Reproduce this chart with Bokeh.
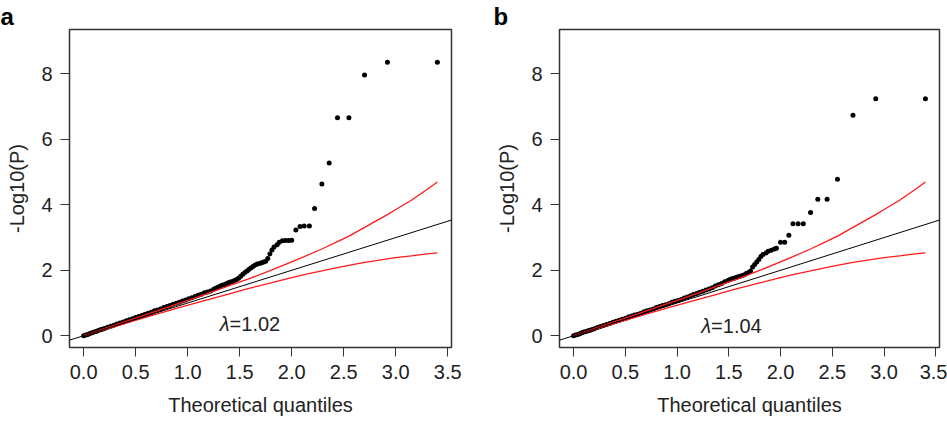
from bokeh.plotting import figure
from bokeh.models import Label, Slope, FixedTicker
from bokeh.layouts import row
from bokeh.embed import file_html
from bokeh.resources import INLINE

# ---------------- data ----------------
x_ticks = [0.0, 0.5, 1.0, 1.5, 2.0, 2.5, 3.0, 3.5]
x_tick_labels = ["0.0", "0.5", "1.0", "1.5", "2.0", "2.5", "3.0", "3.5"]
y_ticks = [0, 2, 4, 6, 8]
y_tick_labels = ["0", "2", "4", "6", "8"]

# panel a observed -log10(P) vs expected
a_x = [
    0.00, 0.02, 0.04, 0.06, 0.08, 0.10, 0.12, 0.14, 0.16, 0.18,
    0.20, 0.23, 0.26, 0.29, 0.32, 0.35, 0.38, 0.41, 0.44, 0.47,
    0.50, 0.53, 0.56, 0.59, 0.62, 0.65, 0.68, 0.71, 0.74, 0.77,
    0.80, 0.83, 0.86, 0.89, 0.92, 0.95, 0.98, 1.01, 1.04, 1.07,
    1.10, 1.13, 1.16, 1.19, 1.22, 1.25, 1.27, 1.29, 1.31, 1.33,
    1.35, 1.37, 1.39, 1.41, 1.43, 1.45, 1.47, 1.49, 1.51, 1.53,
    1.55, 1.57, 1.59, 1.61, 1.63, 1.65, 1.67, 1.69, 1.71, 1.73,
    1.75, 1.77, 1.79, 1.81, 1.83, 1.86, 1.88, 1.91, 1.94, 1.97,
    2.00, 2.04, 2.08, 2.12, 2.17, 2.22, 2.29, 2.36, 2.44, 2.55,
    2.70, 2.92, 3.40]
a_y = [
    0.00, 0.02, 0.04, 0.07, 0.09, 0.11, 0.13, 0.16, 0.18, 0.20,
    0.22, 0.26, 0.29, 0.32, 0.36, 0.39, 0.42, 0.46, 0.49, 0.52,
    0.56, 0.59, 0.62, 0.66, 0.69, 0.72, 0.76, 0.79, 0.82, 0.86,
    0.89, 0.92, 0.96, 0.99, 1.02, 1.06, 1.09, 1.13, 1.16, 1.20,
    1.24, 1.27, 1.31, 1.34, 1.37, 1.42, 1.45, 1.48, 1.51, 1.54,
    1.56, 1.59, 1.62, 1.64, 1.66, 1.69, 1.72, 1.76, 1.82, 1.88,
    1.93, 1.98, 2.03, 2.08, 2.12, 2.16, 2.19, 2.21, 2.23, 2.25,
    2.28, 2.36, 2.50, 2.62, 2.71, 2.78, 2.86, 2.90, 2.91, 2.91,
    2.92, 3.23, 3.34, 3.35, 3.35, 3.89, 4.64, 5.28, 6.66, 6.66,
    7.97, 8.36, 8.36]

# panel b observed -log10(P) vs expected
b_x = [
    0.00, 0.02, 0.04, 0.06, 0.08, 0.10, 0.12, 0.14, 0.16, 0.18,
    0.20, 0.23, 0.26, 0.29, 0.32, 0.35, 0.38, 0.41, 0.44, 0.47,
    0.50, 0.53, 0.56, 0.59, 0.62, 0.65, 0.68, 0.71, 0.74, 0.77,
    0.80, 0.83, 0.86, 0.89, 0.92, 0.95, 0.98, 1.01, 1.04, 1.07,
    1.10, 1.13, 1.16, 1.19, 1.22, 1.25, 1.28, 1.31, 1.34, 1.37,
    1.40, 1.43, 1.46, 1.49, 1.51, 1.53, 1.55, 1.57, 1.59, 1.61,
    1.63, 1.65, 1.67, 1.69, 1.71, 1.73, 1.75, 1.77, 1.79, 1.81,
    1.83, 1.86, 1.88, 1.91, 1.94, 1.96, 2.00, 2.04, 2.08, 2.12,
    2.17, 2.22, 2.29, 2.36, 2.45, 2.55, 2.70, 2.92, 3.40]
b_y = [
    0.00, 0.02, 0.04, 0.06, 0.09, 0.11, 0.13, 0.15, 0.17, 0.19,
    0.21, 0.25, 0.28, 0.31, 0.34, 0.37, 0.41, 0.44, 0.47, 0.50,
    0.53, 0.57, 0.60, 0.63, 0.66, 0.69, 0.73, 0.76, 0.79, 0.82,
    0.86, 0.89, 0.92, 0.95, 0.98, 1.02, 1.05, 1.08, 1.11, 1.15,
    1.18, 1.22, 1.26, 1.29, 1.33, 1.36, 1.40, 1.43, 1.47, 1.52,
    1.56, 1.60, 1.65, 1.69, 1.72, 1.74, 1.76, 1.78, 1.80, 1.82,
    1.84, 1.86, 1.90, 1.93, 1.98, 2.10, 2.18, 2.25, 2.33, 2.42,
    2.48, 2.53, 2.58, 2.61, 2.65, 2.67, 2.86, 2.86, 3.07, 3.42,
    3.42, 3.42, 3.77, 4.17, 4.17, 4.78, 6.74, 7.24, 7.24]

# 95% confidence band (same in both panels)
ci_x = [0.00, 0.32, 0.62, 0.90, 1.10, 1.26, 1.40, 1.58, 1.81, 1.97,
        2.12, 2.29, 2.45, 2.56, 2.70, 2.92, 2.98, 3.15, 3.30, 3.40]
ci_upper = [0.00, 0.35, 0.67, 0.97, 1.19, 1.37, 1.53, 1.73, 2.01, 2.22,
            2.42, 2.65, 2.89, 3.06, 3.31, 3.70, 3.82, 4.14, 4.47, 4.70]
ci_lower = [0.00, 0.30, 0.58, 0.84, 1.02, 1.16, 1.28, 1.44, 1.62, 1.75,
            1.87, 1.98, 2.09, 2.16, 2.24, 2.35, 2.38, 2.44, 2.50, 2.53]

panel_letters = ["a", "b"]
lambda_labels = ["=1.02", "=1.04"]
x_title = "Theoretical quantiles"
y_title = "-Log10(P)"

# ---------------- styling / layout ----------------
FONT = "Liberation Sans"
XR = (-0.136, 3.536)
YR = (-0.36, 9.36)
H = 423
TOP = 27
BOTTOM = 76


def make_panel(width, bl, br, xs, ys, letter, letter_offset, lam_text, lam_pos):
    p = figure(width=width, height=H, x_range=XR, y_range=YR,
               output_backend="svg", toolbar_location=None,
               min_border_left=bl, min_border_right=br,
               min_border_top=TOP, min_border_bottom=BOTTOM)
    p.background_fill_color = "white"
    p.border_fill_color = "white"
    p.outline_line_color = "#333333"
    p.outline_line_width = 1.5
    p.grid.visible = False

    # panel letter as the figure title
    p.title.text = letter
    p.title.align = "left"
    p.title.offset = letter_offset
    p.title.standoff = 0
    p.title.text_font = FONT
    p.title.text_font_size = "24px"
    p.title.text_font_style = "bold"
    p.title.text_color = "black"

    p.xaxis.ticker = FixedTicker(ticks=x_ticks)
    p.xaxis.major_label_overrides = dict(zip(x_ticks, x_tick_labels))
    p.yaxis.ticker = FixedTicker(ticks=y_ticks)
    p.yaxis.major_label_overrides = dict(zip(y_ticks, y_tick_labels))

    for ax in (p.xaxis[0], p.yaxis[0]):
        ax.axis_line_color = None
        ax.major_tick_out = 9
        ax.major_tick_in = 0
        ax.major_tick_line_color = "#333333"
        ax.major_tick_line_width = 1
        ax.minor_tick_line_color = None
        ax.major_label_text_font = FONT
        ax.major_label_text_font_size = "20px"
        ax.major_label_text_color = "#222222"
        ax.axis_label_text_font = FONT
        ax.axis_label_text_font_size = "20px"
        ax.axis_label_text_font_style = "normal"
        ax.axis_label_text_color = "#222222"
    p.xaxis.major_label_standoff = 8
    p.yaxis.major_label_standoff = 8

    p.xaxis.axis_label = x_title
    p.xaxis.axis_label_standoff = 12
    p.yaxis.axis_label = y_title
    p.yaxis.axis_label_standoff = 10

    # points
    p.scatter(xs, ys, size=5, color="black", line_width=0)
    # reference line y = x
    p.add_layout(Slope(gradient=1, y_intercept=0, line_color="black", line_width=1))
    # confidence band
    p.line(ci_x, ci_upper, line_color="#ff1a1a", line_width=1.3)
    p.line(ci_x, ci_lower, line_color="#ff1a1a", line_width=1.3)

    # lambda label (italic lambda + value)
    p.add_layout(Label(x=lam_pos[0], y=lam_pos[1], text="λ", text_font=FONT,
                       text_font_style="italic", text_font_size="20px",
                       text_color="#222222", text_align="right",
                       text_baseline="alphabetic"))
    p.add_layout(Label(x=lam_pos[0], y=lam_pos[1], text=lam_text, text_font=FONT,
                       text_font_size="20px", text_color="#222222",
                       text_align="left", text_baseline="alphabetic"))
    return p


pa = make_panel(491, 69, 40, a_x, a_y, panel_letters[0], -69,
                lambda_labels[0], (1.403, 0.37))
pb = make_panel(456, 68, 8, b_x, b_y, panel_letters[1], -66,
                lambda_labels[1], (1.329, 0.31))

layout = row(pa, pb)
open("out.html", "w").write(file_html(layout, INLINE))
